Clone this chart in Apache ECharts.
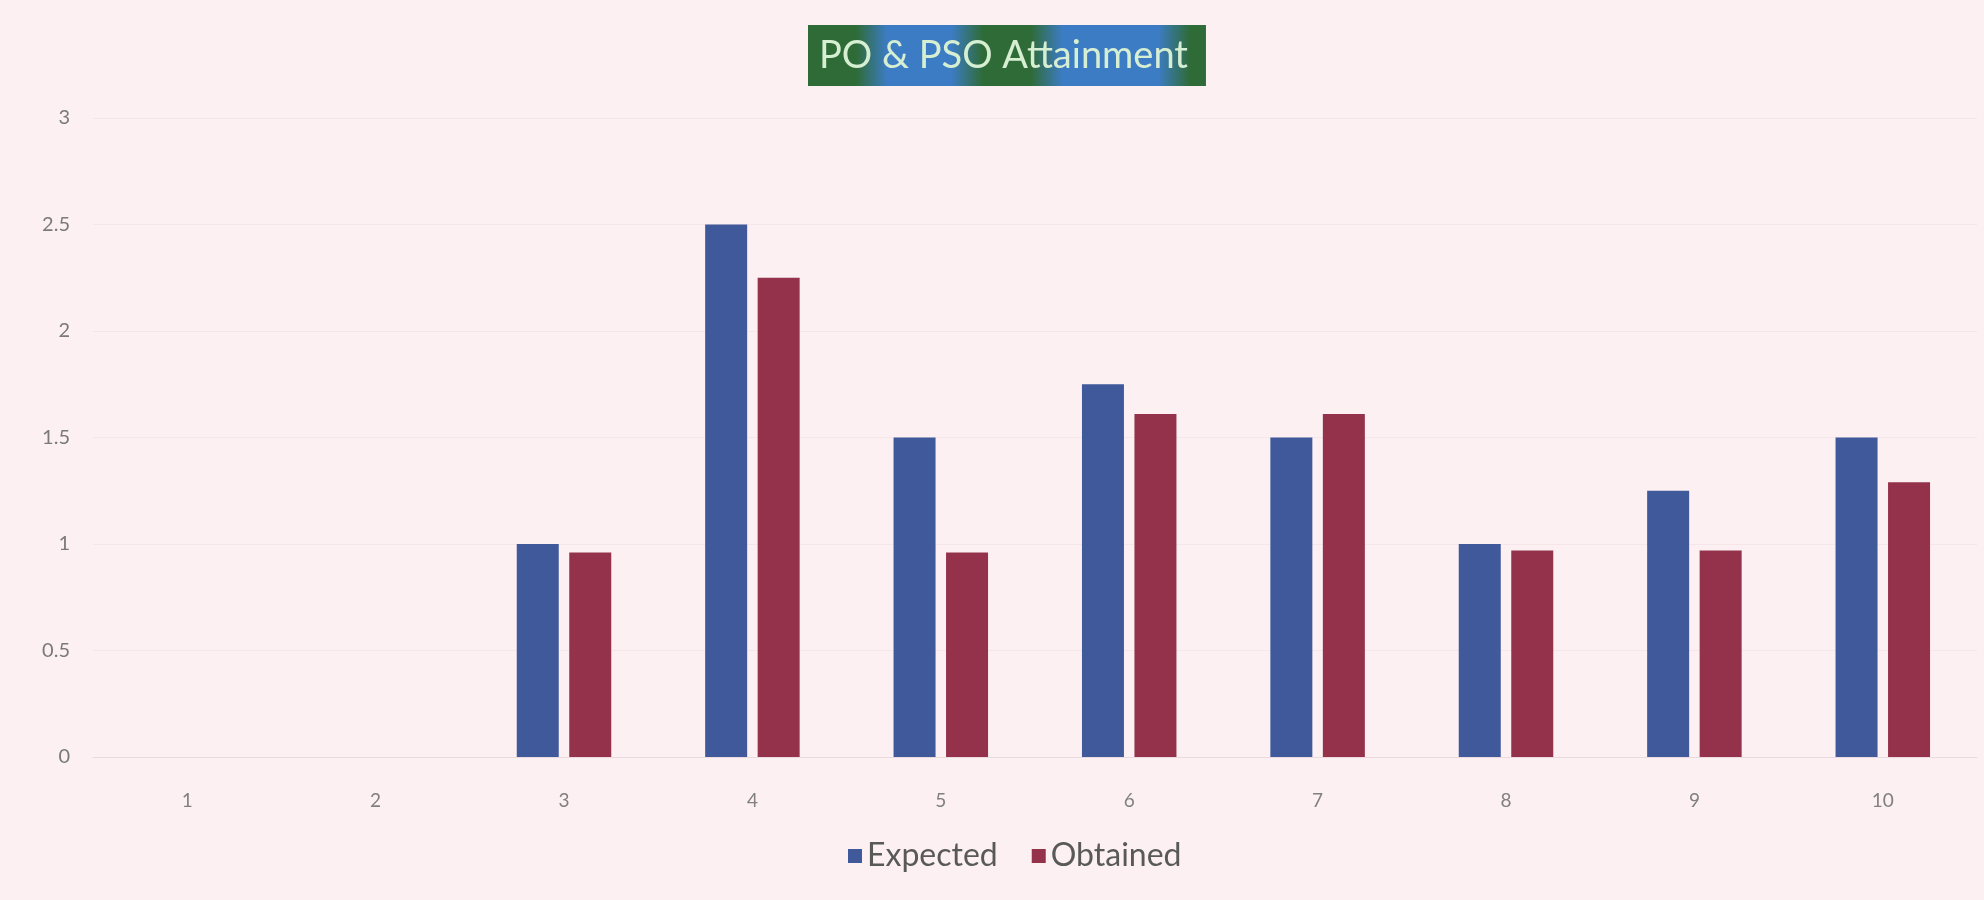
<!DOCTYPE html>
<html>
<head>
<meta charset="UTF-8">
<title>PO & PSO Attainment</title>
<script src="https://cdn.jsdelivr.net/npm/echarts@6/dist/echarts.min.js"></script>
<style>
  html, body { margin: 0; padding: 0; background: #fcf0f2; }
  #chart { width: 1984px; height: 900px; }
</style>
</head>
<body>
<div id="chart"></div>
<script>
// data
var categories = ['1', '2', '3', '4', '5', '6', '7', '8', '9', '10'];
var expected = [0, 0, 1, 2.5, 1.5, 1.75, 1.5, 1, 1.25, 1.5];
var obtained = [0, 0, 0.96, 2.25, 0.96, 1.61, 1.61, 0.97, 0.97, 1.29];
var yTicks = [0, 0.5, 1, 1.5, 2, 2.5, 3];

var chart = echarts.init(document.getElementById('chart'));

// mottled green / blue title box
var titleBg = new echarts.graphic.LinearGradient(0, 0, 1, 0, [
  { offset: 0, color: '#2f6b36' },
  { offset: 0.12, color: '#2f6b36' },
  { offset: 0.2, color: '#3c7cc4' },
  { offset: 0.36, color: '#3c7cc4' },
  { offset: 0.44, color: '#2f6b36' },
  { offset: 0.56, color: '#2f6b36' },
  { offset: 0.64, color: '#3c7cc4' },
  { offset: 0.88, color: '#3c7cc4' },
  { offset: 0.96, color: '#2f6b36' },
  { offset: 1, color: '#2f6b36' }
]);

var option = {
  backgroundColor: '#fcf0f2',
  title: {
    text: 'PO & PSO Attainment',
    left: 808,
    top: 25,
    padding: [12, 18, 11, 11],
    backgroundColor: titleBg,
    textStyle: {
      fontFamily: 'Lato',
      fontSize: 38,
      fontWeight: 'normal',
      color: '#d6eed2'
    }
  },
  legend: {
    data: ['Expected', 'Obtained'],
    left: 843,
    top: 835,
    icon: 'rect',
    itemWidth: 14,
    itemHeight: 14,
    itemGap: 34,
    textStyle: {
      fontFamily: 'Lato',
      fontSize: 32,
      color: '#595959'
    }
  },
  grid: {
    left: 93,
    right: 7,
    top: 118,
    bottom: 143,
    containLabel: false
  },
  xAxis: {
    type: 'category',
    data: categories,
    axisTick: { show: false },
    axisLine: { lineStyle: { color: '#ead9dd' } },
    axisLabel: {
      fontFamily: 'Lato',
      fontSize: 19,
      color: '#808080',
      margin: 34
    }
  },
  yAxis: {
    type: 'value',
    min: yTicks[0],
    max: yTicks[yTicks.length - 1],
    interval: 0.5,
    axisLine: { show: false },
    axisTick: { show: false },
    splitLine: { lineStyle: { color: '#f6e6e9' } },
    axisLabel: {
      fontFamily: 'Lato',
      fontSize: 20,
      color: '#7a7a7a',
      margin: 23
    }
  },
  series: [
    {
      name: 'Expected',
      type: 'bar',
      data: expected,
      barWidth: 42,
      barGap: '25%',
      itemStyle: { color: '#40599a' }
    },
    {
      name: 'Obtained',
      type: 'bar',
      data: obtained,
      barWidth: 42,
      itemStyle: { color: '#93324a' }
    }
  ]
};

chart.setOption(option);
</script>
</body>
</html>
